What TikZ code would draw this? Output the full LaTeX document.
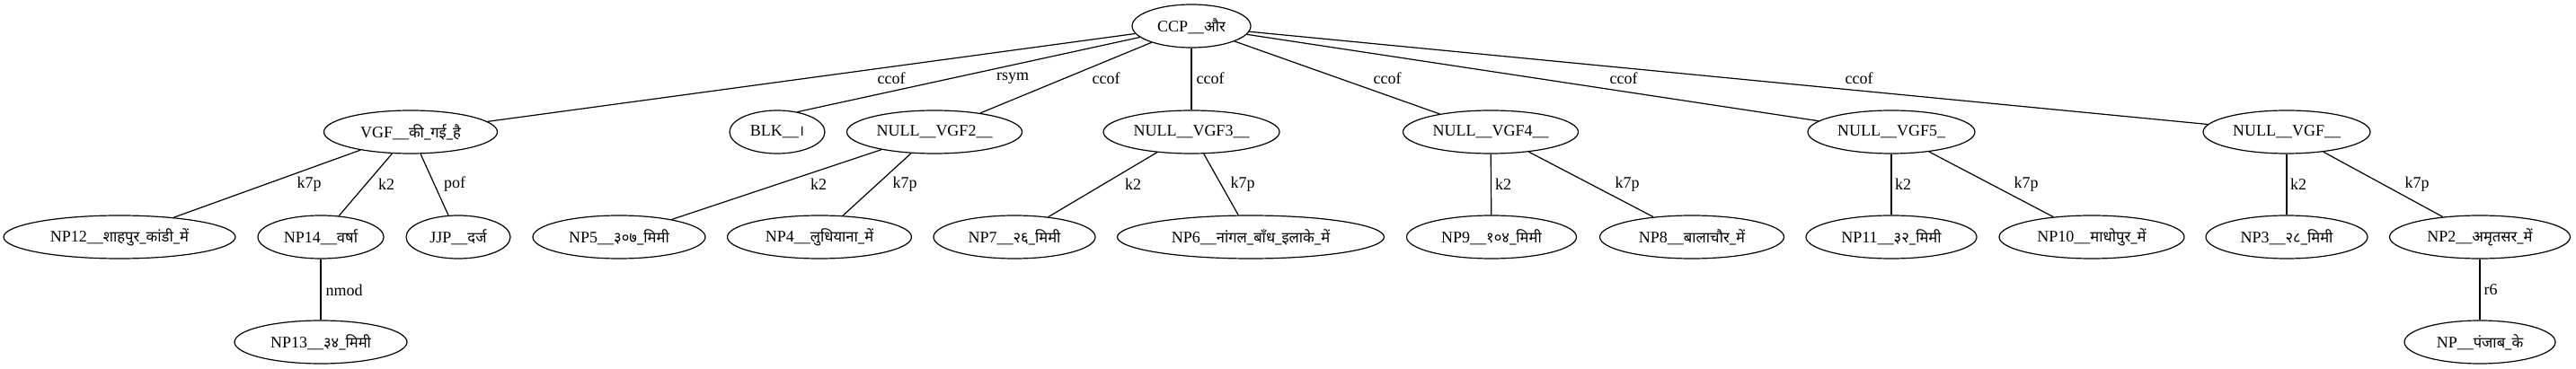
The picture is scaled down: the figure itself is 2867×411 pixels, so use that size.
\documentclass[tikz,border=0pt]{standalone}
\usepackage{fontspec}
\usetikzlibrary{shapes.geometric}
\setmainfont{Liberation Serif}
\newfontfamily\dvfont[Script=Devanagari,Scale=0.92]{Noto Sans}
\newcommand{\dv}[1]{{\dvfont #1}}
\begin{document}
\begin{tikzpicture}[x=1pt,y=-1pt,
  nd/.style={draw, ellipse, line width=1.2pt, inner sep=0pt, minimum height=48pt, font=\fontsize{18}{20}\selectfont},
  lbl/.style={inner sep=0pt, font=\fontsize{18}{20}\selectfont},
  ed/.style={line width=1.2pt}]
\useasboundingbox (0,0) rectangle (2867,411);
% row 0
\node[nd, minimum width=132pt] (ccp) at (1326,29) {CCP\_\_\dv{और}};
% row 1
\node[nd, minimum width=193pt] (vgf) at (457,147) {VGF\_\_\dv{की\_गई\_है}};
\node[nd, minimum width=106pt] (blk) at (865,147) {BLK\_\_\dv{।}};
\node[nd, minimum width=195pt] (nv2) at (1040,147) {NULL\_\_VGF2\_\_};
\node[nd, minimum width=196pt] (nv3) at (1326,147) {NULL\_\_VGF3\_\_};
\node[nd, minimum width=195pt] (nv4) at (1659,147) {NULL\_\_VGF4\_\_};
\node[nd, minimum width=186pt] (nv5) at (2105,147) {NULL\_\_VGF5\_};
\node[nd, minimum width=186pt] (nv) at (2545,147) {NULL\_\_VGF\_\_};
% row 2
\node[nd, minimum width=258pt] (np12) at (133,264) {NP12\_\_\dv{शाहपुर\_कांडी\_में}};
\node[nd, minimum width=140pt] (np14) at (357,264) {NP14\_\_\dv{वर्षा}};
\node[nd, minimum width=116pt] (jjp) at (510,264) {JJP\_\_\dv{दर्ज}};
\node[nd, minimum width=192pt] (np5) at (689,264) {NP5\_\_\dv{३०७\_मिमी}};
\node[nd, minimum width=205pt] (np4) at (912,264) {NP4\_\_\dv{लुधियाना\_में}};
\node[nd, minimum width=180pt] (np7) at (1129,264) {NP7\_\_\dv{२६\_मिमी}};
\node[nd, minimum width=297pt] (np6) at (1392,264) {NP6\_\_\dv{नांगल\_बाँध\_इलाके\_में}};
\node[nd, minimum width=189pt] (np9) at (1660,264) {NP9\_\_\dv{१०४\_मिमी}};
\node[nd, minimum width=205pt] (np8) at (1883,264) {NP8\_\_\dv{बालाचौर\_में}};
\node[nd, minimum width=190pt] (np11) at (2105,264) {NP11\_\_\dv{३२\_मिमी}};
\node[nd, minimum width=206pt] (np10) at (2328,264) {NP10\_\_\dv{माधोपुर\_में}};
\node[nd, minimum width=180pt] (np3) at (2545,264) {NP3\_\_\dv{२८\_मिमी}};
\node[nd, minimum width=201pt] (np2) at (2760,264) {NP2\_\_\dv{अमृतसर\_में}};
% row 3
\node[nd, minimum width=192pt] (np13) at (357,381) {NP13\_\_\dv{३४\_मिमी}};
\node[nd, minimum width=168pt] (npk) at (2760,381) {NP\_\_\dv{पंजाब\_के}};
% edges
\draw[ed] (ccp) -- (vgf);
\draw[ed] (ccp) -- (blk.45);
\draw[ed] (ccp) -- (nv2);
\draw[ed] (ccp) -- (nv3);
\draw[ed] (ccp) -- (nv4);
\draw[ed] (ccp) -- (nv5);
\draw[ed] (ccp) -- (nv);
\draw[ed] (vgf) -- (np12);
\draw[ed] (vgf) -- (np14);
\draw[ed] (vgf) -- (jjp);
\draw[ed] (nv2) -- (np5);
\draw[ed] (nv2) -- (np4);
\draw[ed] (nv3) -- (np7);
\draw[ed] (nv3) -- (np6);
\draw[ed] (nv4) -- (np9);
\draw[ed] (nv4) -- (np8);
\draw[ed] (nv5) -- (np11);
\draw[ed] (nv5) -- (np10);
\draw[ed] (nv) -- (np3);
\draw[ed] (nv) -- (np2);
\draw[ed] (np14) -- (np13);
\draw[ed] (np2) -- (npk);
% edge labels
\node[lbl] (l1) at (992,87) {ccof};
\node[lbl] (l2) at (1127,87) {rsym};
\node[lbl] (l3) at (1231,87) {ccof};
\node[lbl] (l4) at (1347,87) {ccof};
\node[lbl] (l5) at (1544,87) {ccof};
\node[lbl] (l6) at (1807,87) {ccof};
\node[lbl] (l7) at (2069,87) {ccof};
\node[lbl] (l8) at (344,205) {k7p};
\node[lbl] (l9) at (430,205) {k2};
\node[lbl] (l10) at (506,205) {pof};
\node[lbl] (l11) at (911,205) {k2};
\node[lbl] (l12) at (1007,205) {k7p};
\node[lbl] (l13) at (1261,205) {k2};
\node[lbl] (l14) at (1383,205) {k7p};
\node[lbl] (l15) at (1673,205) {k2};
\node[lbl] (l16) at (1811,205) {k7p};
\node[lbl] (l17) at (2118,205) {k2};
\node[lbl] (l18) at (2255,205) {k7p};
\node[lbl] (l19) at (2558,205) {k2};
\node[lbl] (l20) at (2690,205) {k7p};
\node[lbl] (l21) at (383,323) {nmod};
\node[lbl] (l22) at (2772,323) {r6};
\end{tikzpicture}
\end{document}
